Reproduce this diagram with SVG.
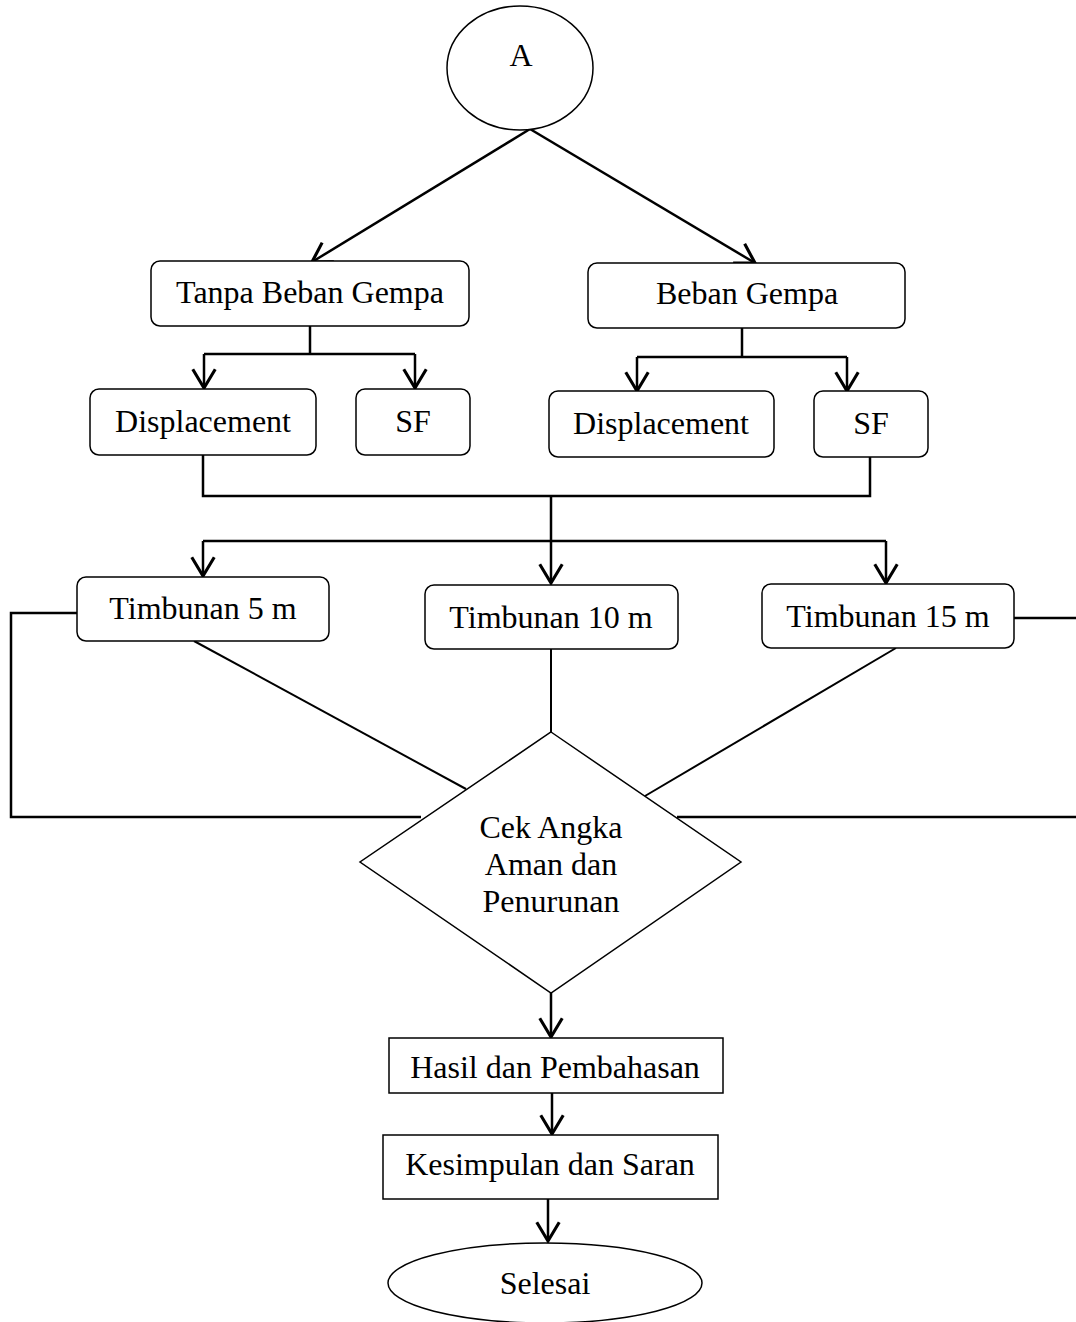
<svg xmlns="http://www.w3.org/2000/svg" width="1076" height="1322" viewBox="0 0 1076 1322">
<style>
.box{fill:#fff;stroke:#000;stroke-width:1.5}
.t{font-family:"Liberation Serif","Times New Roman",serif;font-size:32px;fill:#000;text-anchor:middle}
.c{fill:none;stroke:#000;stroke-width:2.5}
.d{fill:none;stroke:#000;stroke-width:2}
</style>
<defs>
<marker id="ah" markerUnits="userSpaceOnUse" markerWidth="30" markerHeight="30" viewBox="-16 -12 20 24" refX="0" refY="0" orient="auto">
<path d="M-15,-9 L0,0 L-15,9" fill="none" stroke="#000" stroke-width="2.5"/>
</marker>
</defs>
<rect width="1076" height="1322" fill="#fff"/>
<g id="connectors">
<line class="c" x1="530" y1="129" x2="312" y2="262" marker-end="url(#ah)"/>
<line class="c" x1="530" y1="129" x2="755" y2="263" marker-end="url(#ah)"/>
<polyline class="c" points="310,326 310,354"/>
<polyline class="c" points="204,354 415,354"/>
<line class="c" x1="204" y1="354" x2="204" y2="388" marker-end="url(#ah)"/>
<line class="c" x1="415" y1="354" x2="415" y2="388" marker-end="url(#ah)"/>
<polyline class="c" points="742,328 742,357"/>
<polyline class="c" points="637,357 847,357"/>
<line class="c" x1="637" y1="357" x2="637" y2="391" marker-end="url(#ah)"/>
<line class="c" x1="847" y1="357" x2="847" y2="391" marker-end="url(#ah)"/>
<polyline class="c" points="203,455 203,496 870,496 870,457"/>
<polyline class="c" points="551,496 551,541"/>
<polyline class="c" points="203,541 886,541"/>
<line class="c" x1="203" y1="541" x2="203" y2="576" marker-end="url(#ah)"/>
<line class="c" x1="886" y1="541" x2="886" y2="583" marker-end="url(#ah)"/>
<line class="c" x1="551" y1="541" x2="551" y2="583" marker-end="url(#ah)"/>
<polyline class="c" points="77,613 11,613 11,817 421,817"/>
<polyline class="c" points="1014,618 1076,618"/>
<line class="c" x1="677" y1="817" x2="1076" y2="817"/>
<line class="d" x1="194" y1="641" x2="466" y2="789"/>
<line class="d" x1="551" y1="649" x2="551" y2="732"/>
<line class="d" x1="896" y1="648" x2="645" y2="796"/>
<line class="c" x1="551" y1="993" x2="551" y2="1037" marker-end="url(#ah)"/>
<line class="c" x1="552" y1="1093" x2="552" y2="1134" marker-end="url(#ah)"/>
<line class="c" x1="548" y1="1199" x2="548" y2="1241" marker-end="url(#ah)"/>
</g>
<g id="nodeA"><ellipse class="box" cx="520" cy="68" rx="73" ry="62"/><text class="t" x="521" y="66">A</text></g>
<g id="tanpa"><rect class="box" x="151" y="261" width="318" height="65" rx="9"/><text class="t" x="310" y="303">Tanpa Beban Gempa</text></g>
<g id="beban"><rect class="box" x="588" y="263" width="317" height="65" rx="9"/><text class="t" x="747" y="304">Beban Gempa</text></g>
<g id="disp1"><rect class="box" x="90" y="389" width="226" height="66" rx="9"/><text class="t" x="203" y="432">Displacement</text></g>
<g id="sf1"><rect class="box" x="356" y="389" width="114" height="66" rx="9"/><text class="t" x="413" y="432">SF</text></g>
<g id="disp2"><rect class="box" x="549" y="391" width="225" height="66" rx="9"/><text class="t" x="661" y="434">Displacement</text></g>
<g id="sf2"><rect class="box" x="814" y="391" width="114" height="66" rx="9"/><text class="t" x="871" y="434">SF</text></g>
<g id="t5"><rect class="box" x="77" y="577" width="252" height="64" rx="9"/><text class="t" x="203" y="619">Timbunan 5 m</text></g>
<g id="t10"><rect class="box" x="425" y="585" width="253" height="64" rx="9"/><text class="t" x="551" y="628">Timbunan 10 m</text></g>
<g id="t15"><rect class="box" x="762" y="584" width="252" height="64" rx="9"/><text class="t" x="888" y="627">Timbunan 15 m</text></g>
<g id="cek"><polygon class="box" points="551,732 741,862 551,993 360,862"/>
<text class="t" x="551" y="838">Cek Angka</text><text class="t" x="551" y="875">Aman dan</text><text class="t" x="551" y="912">Penurunan</text></g>
<g id="hasil"><rect class="box" x="389" y="1038" width="334" height="55"/><text class="t" x="555" y="1078">Hasil dan Pembahasan</text></g>
<g id="kesimpulan"><rect class="box" x="383" y="1135" width="335" height="64"/><text class="t" x="550" y="1175">Kesimpulan dan Saran</text></g>
<g id="selesai"><ellipse class="box" cx="545" cy="1283" rx="157" ry="40"/><text class="t" x="545" y="1294">Selesai</text></g>
</svg>
